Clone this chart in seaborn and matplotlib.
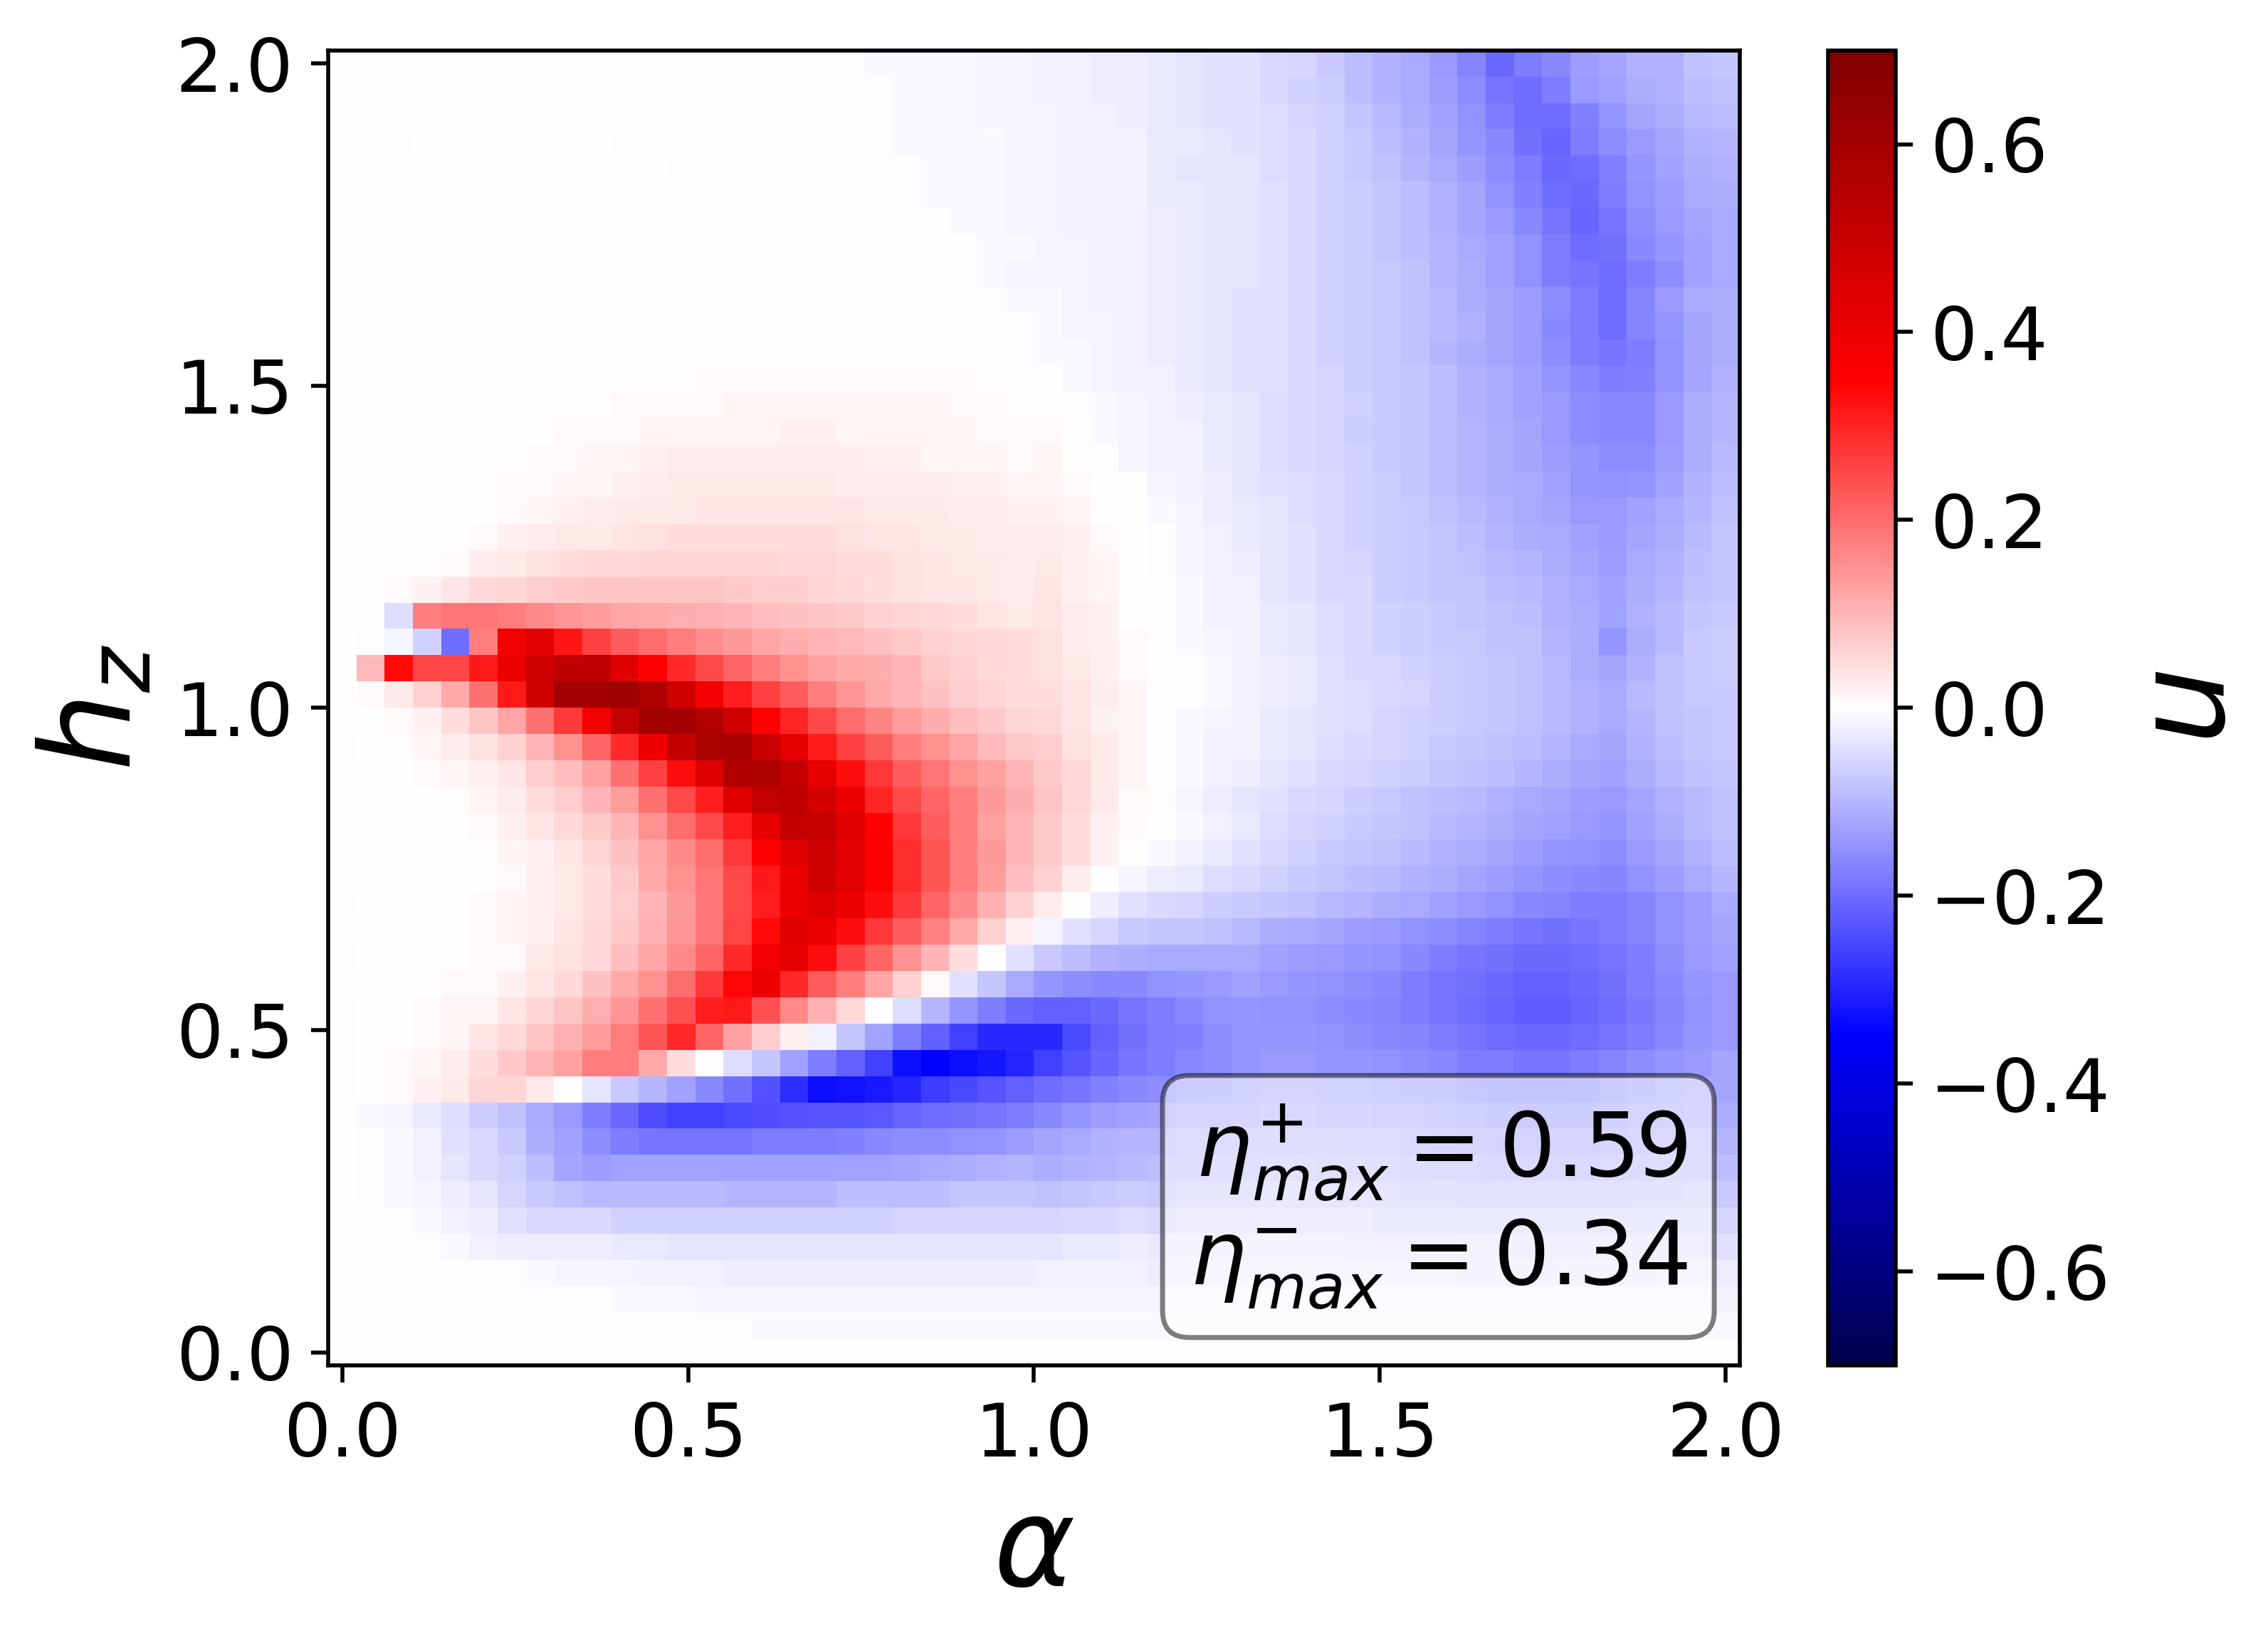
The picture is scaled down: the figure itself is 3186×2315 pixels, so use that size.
import numpy as np
import pandas as pd
import matplotlib
matplotlib.use('Agg')
import matplotlib.pyplot as plt
import seaborn as sns

# u(alpha, h_z): 50 rows (h_z from 2.0 down to 0.0) x 50 cols (alpha 0 -> 2)
# each row = cols 0-24 + cols 25-49
u_rows = [
    [-0.002]*19 + [-0.01]*4 + [-0.014]*2 + [-0.02, -0.02, -0.022, -0.022, -0.03, -0.035, -0.04, -0.04, -0.05, -0.055, -0.072, -0.092, -0.108, -0.12, -0.141, -0.168, -0.205, -0.18, -0.163, -0.135, -0.125, -0.108, -0.104, -0.086, -0.08],
    [-0.002]*20 + [-0.01]*3 + [-0.014]*2 + [-0.02, -0.02, -0.024, -0.024, -0.032, -0.038, -0.043, -0.043, -0.054, -0.065, -0.07, -0.09, -0.105, -0.12, -0.135, -0.155, -0.19, -0.198, -0.175, -0.138, -0.127, -0.113, -0.105, -0.09, -0.086],
    [-0.002]*20 + [-0.01]*3 + [-0.014]*2 + [-0.015, -0.02, -0.02, -0.022, -0.03, -0.035, -0.04, -0.04, -0.047, -0.056, -0.065, -0.08, -0.097, -0.113, -0.13, -0.152, -0.18, -0.2, -0.2, -0.17, -0.147, -0.125, -0.113, -0.097, -0.092],
    [-0.002]*3 + [0.0]*7 + [-0.002]*10 + [-0.01]*4 + [-0.014] + [-0.015, -0.017, -0.017, -0.019, -0.028, -0.032, -0.037, -0.04, -0.047, -0.052, -0.062, -0.075, -0.088, -0.108, -0.124, -0.145, -0.163, -0.192, -0.21, -0.18, -0.158, -0.138, -0.124, -0.108, -0.1],
    [0.0]*12 + [-0.002]*9 + [-0.01]*3 + [-0.014] + [-0.015, -0.017, -0.017, -0.019, -0.028, -0.033, -0.036, -0.037, -0.046, -0.054, -0.062, -0.075, -0.086, -0.103, -0.12, -0.135, -0.158, -0.18, -0.205, -0.198, -0.17, -0.147, -0.13, -0.113, -0.108],
    [0.0]*21 + [-0.01]*3 + [-0.014] + [-0.015, -0.017, -0.017, -0.019, -0.028, -0.03, -0.035, -0.037, -0.04, -0.05, -0.062, -0.066, -0.078, -0.09, -0.108, -0.125, -0.15, -0.172, -0.2, -0.205, -0.175, -0.152, -0.135, -0.12, -0.113],
    [0.0]*22 + [-0.01]*2 + [-0.014] + [-0.015, -0.017, -0.017, -0.02, -0.026, -0.032, -0.035, -0.035, -0.04, -0.05, -0.062, -0.066, -0.08, -0.09, -0.108, -0.125, -0.138, -0.163, -0.19, -0.213, -0.186, -0.158, -0.141, -0.125, -0.119],
    [0.0]*23 + [-0.01]*2 + [-0.014, -0.014, -0.017, -0.02, -0.025, -0.032, -0.035, -0.035, -0.04, -0.05, -0.062, -0.066, -0.08, -0.09, -0.1, -0.12, -0.13, -0.152, -0.178, -0.2, -0.195, -0.163, -0.147, -0.13, -0.119],
    [0.0]*23 + [-0.008, -0.012] + [-0.014, -0.014, -0.017, -0.02, -0.025, -0.03, -0.035, -0.035, -0.04, -0.05, -0.062, -0.066, -0.076, -0.086, -0.1, -0.113, -0.13, -0.152, -0.175, -0.19, -0.2, -0.175, -0.158, -0.13, -0.119],
    [0.0]*21 + [-0.003]*3 + [-0.01] + [-0.01, -0.014, -0.017, -0.02, -0.025, -0.03, -0.035, -0.04, -0.04, -0.05, -0.062, -0.066, -0.076, -0.086, -0.098, -0.113, -0.124, -0.135, -0.158, -0.18, -0.198, -0.165, -0.141, -0.119, -0.113],
    [0.0]*12 + [0.004]*7 + [0.001]*4 + [-0.002, -0.004] + [-0.01, -0.014, -0.014, -0.02, -0.025, -0.03, -0.035, -0.04, -0.04, -0.05, -0.062, -0.066, -0.075, -0.086, -0.097, -0.108, -0.124, -0.135, -0.163, -0.175, -0.198, -0.168, -0.147, -0.124, -0.113],
    [0.0]*10 + [0.005]*11 + [0.002]*2 + [0.0, -0.003] + [-0.007, -0.01, -0.014, -0.02, -0.025, -0.03, -0.035, -0.04, -0.04, -0.05, -0.062, -0.066, -0.075, -0.083, -0.1, -0.113, -0.124, -0.135, -0.158, -0.175, -0.19, -0.175, -0.152, -0.124, -0.113],
    [0.0]*9 + [0.005]*4 + [0.01]*7 + [0.006]*3 + [0.002, -0.001] + [0.0, -0.01, -0.014, -0.017, -0.02, -0.03, -0.035, -0.04, -0.04, -0.05, -0.057, -0.066, -0.075, -0.08, -0.092, -0.108, -0.119, -0.13, -0.147, -0.163, -0.18, -0.17, -0.152, -0.124, -0.108],
    [0.0]*8 + [0.004, 0.005, 0.006, 0.008, 0.01, 0.01] + [0.014]*5 + [0.012]*3 + [0.008, 0.006, 0.002] + [0.003, -0.004, -0.01, -0.014, -0.017, -0.023, -0.03, -0.035, -0.048, -0.054, -0.057, -0.065, -0.075, -0.08, -0.092, -0.105, -0.119, -0.13, -0.141, -0.158, -0.163, -0.163, -0.141, -0.113, -0.103],
    [0.0]*7 + [0.004, 0.007, 0.008, 0.01, 0.012] + [0.015]*4 + [0.018]*2 + [0.016]*4 + [0.012, 0.008, 0.006] + [0.008, 0.002, -0.01, -0.014, -0.017, -0.02, -0.03, -0.035, -0.045, -0.052, -0.057, -0.066, -0.075, -0.08, -0.09, -0.1, -0.113, -0.124, -0.138, -0.158, -0.163, -0.16, -0.138, -0.113, -0.103],
    [0.0]*6 + [0.004, 0.007, 0.01, 0.012, 0.016, 0.018] + [0.022]*7 + [0.02, 0.02, 0.016, 0.014, 0.012, 0.008] + [0.013, 0.002, -0.004, -0.014, -0.017, -0.02, -0.028, -0.035, -0.045, -0.052, -0.057, -0.065, -0.075, -0.08, -0.092, -0.1, -0.113, -0.124, -0.135, -0.147, -0.155, -0.155, -0.135, -0.113, -0.097],
    [0.0]*5 + [0.005, 0.008, 0.01, 0.013, 0.016, 0.02, 0.022] + [0.028]*6 + [0.027, 0.025, 0.024, 0.022, 0.02, 0.018, 0.015] + [0.016, 0.008, 0.001, -0.004, -0.014, -0.018, -0.026, -0.033, -0.043, -0.048, -0.054, -0.065, -0.07, -0.08, -0.09, -0.1, -0.113, -0.119, -0.13, -0.147, -0.15, -0.147, -0.13, -0.108, -0.092],
    [0.0]*5 + [0.005, 0.01, 0.015, 0.018, 0.025, 0.028, 0.03, 0.032, 0.035] + [0.037]*4 + [0.035, 0.032, 0.03, 0.028, 0.025, 0.022, 0.018] + [0.02, 0.012, 0.001, 0.0, -0.01, -0.016, -0.023, -0.03, -0.037, -0.045, -0.052, -0.065, -0.07, -0.075, -0.086, -0.097, -0.108, -0.119, -0.125, -0.138, -0.141, -0.13, -0.119, -0.103, -0.086],
    [0.0]*4 + [0.005, 0.01, 0.018, 0.023, 0.028, 0.032, 0.037, 0.04] + [0.045]*6 + [0.043, 0.038, 0.037, 0.032, 0.03, 0.025, 0.022] + [0.025, 0.018, 0.008, 0.0, -0.004, -0.014, -0.021, -0.028, -0.037, -0.043, -0.054, -0.063, -0.07, -0.075, -0.08, -0.092, -0.103, -0.113, -0.119, -0.13, -0.141, -0.125, -0.113, -0.097, -0.08],
    [0.0]*3 + [0.005, 0.01, 0.025, 0.03, 0.042, 0.047, 0.05, 0.053] + [0.055]*5 + [0.052, 0.05, 0.048, 0.045, 0.042, 0.035, 0.032, 0.03, 0.025] + [0.03, 0.02, 0.012, 0.002, -0.004, -0.014, -0.018, -0.023, -0.034, -0.04, -0.052, -0.057, -0.07, -0.075, -0.08, -0.086, -0.097, -0.103, -0.113, -0.124, -0.135, -0.119, -0.108, -0.092, -0.08],
    [0.0, 0.0, 0.006, 0.02, 0.037, 0.05, 0.057, 0.07, 0.075, 0.077, 0.078, 0.08, 0.08, 0.08, 0.075, 0.07, 0.068, 0.057, 0.053, 0.047, 0.042, 0.037, 0.035, 0.03, 0.025] + [0.035, 0.02, 0.015, 0.002, 0.0, -0.01, -0.018, -0.021, -0.034, -0.04, -0.052, -0.054, -0.066, -0.072, -0.077, -0.08, -0.092, -0.097, -0.108, -0.119, -0.13, -0.113, -0.103, -0.086, -0.077],
    [-0.002, -0.002, -0.047, 0.175, 0.19, 0.186, 0.175, 0.163, 0.147, 0.135, 0.125, 0.117, 0.113, 0.105, 0.1, 0.09, 0.084, 0.078, 0.072, 0.063, 0.057, 0.05, 0.045, 0.035, 0.03] + [0.035, 0.025, 0.018, 0.002, 0.0, -0.008, -0.018, -0.021, -0.03, -0.037, -0.047, -0.054, -0.065, -0.068, -0.072, -0.077, -0.086, -0.089, -0.108, -0.113, -0.13, -0.108, -0.097, -0.08, -0.072],
    [0.0, -0.002, -0.012, -0.062, -0.2, 0.175, 0.39, 0.43, 0.32, 0.26, 0.22, 0.2, 0.175, 0.155, 0.14, 0.125, 0.113, 0.1, 0.095, 0.085, 0.075, 0.065, 0.06, 0.05, 0.045] + [0.04, 0.025, 0.018, 0.008, 0.0, -0.007, -0.015, -0.018, -0.028, -0.037, -0.045, -0.05, -0.065, -0.068, -0.072, -0.075, -0.084, -0.086, -0.1, -0.113, -0.147, -0.113, -0.097, -0.075, -0.07],
    [0.0, 0.097, 0.335, 0.255, 0.255, 0.315, 0.4, 0.49, 0.52, 0.52, 0.436, 0.35, 0.29, 0.25, 0.21, 0.175, 0.153, 0.13, 0.12, 0.11, 0.1, 0.075, 0.065, 0.054, 0.048] + [0.042, 0.03, 0.02, 0.01, 0.0, 0.0, -0.01, -0.021, -0.023, -0.032, -0.043, -0.05, -0.054, -0.065, -0.07, -0.075, -0.08, -0.086, -0.097, -0.113, -0.124, -0.108, -0.086, -0.075, -0.07],
    [-0.002, 0.007, 0.03, 0.062, 0.117, 0.196, 0.315, 0.48, 0.6, 0.6, 0.61, 0.57, 0.48, 0.38, 0.31, 0.26, 0.22, 0.175, 0.147, 0.12, 0.1, 0.085, 0.07, 0.06, 0.045] + [0.045, 0.035, 0.022, 0.012, 0.0, -0.004, -0.01, -0.021, -0.023, -0.03, -0.043, -0.045, -0.054, -0.06, -0.068, -0.075, -0.08, -0.086, -0.097, -0.108, -0.119, -0.097, -0.086, -0.075, -0.072],
    [0.0, 0.0, 0.006, 0.02, 0.044, 0.08, 0.125, 0.196, 0.27, 0.38, 0.51, 0.6, 0.6, 0.56, 0.48, 0.35, 0.3, 0.25, 0.2, 0.165, 0.135, 0.113, 0.09, 0.075, 0.057] + [0.05, 0.037, 0.02, 0.016, 0.0, -0.007, -0.014, -0.021, -0.03, -0.035, -0.043, -0.048, -0.056, -0.062, -0.07, -0.075, -0.08, -0.086, -0.097, -0.108, -0.119, -0.103, -0.086, -0.08, -0.075],
    [-0.002, 0.0, 0.0, 0.012, 0.023, 0.042, 0.065, 0.1, 0.15, 0.21, 0.29, 0.39, 0.51, 0.58, 0.59, 0.5, 0.42, 0.315, 0.26, 0.22, 0.18, 0.15, 0.125, 0.097, 0.075] + [0.066, 0.042, 0.03, 0.012, 0.002, -0.01, -0.018, -0.021, -0.03, -0.035, -0.045, -0.05, -0.06, -0.065, -0.072, -0.077, -0.086, -0.092, -0.103, -0.119, -0.124, -0.108, -0.092, -0.08, -0.075],
    [0.0, 0.0, 0.0, 0.008, 0.012, 0.02, 0.035, 0.07, 0.09, 0.13, 0.196, 0.26, 0.33, 0.44, 0.56, 0.57, 0.51, 0.42, 0.33, 0.27, 0.22, 0.186, 0.15, 0.13, 0.1] + [0.075, 0.05, 0.03, 0.016, 0.0, -0.01, -0.021, -0.025, -0.034, -0.043, -0.05, -0.056, -0.065, -0.07, -0.077, -0.086, -0.092, -0.103, -0.113, -0.124, -0.13, -0.113, -0.097, -0.086, -0.08],
    [0.0, 0.0, 0.0, 0.0, 0.004, 0.012, 0.026, 0.044, 0.07, 0.1, 0.135, 0.196, 0.25, 0.31, 0.436, 0.51, 0.53, 0.47, 0.4, 0.3, 0.25, 0.21, 0.175, 0.14, 0.113] + [0.08, 0.053, 0.032, 0.008, -0.004, -0.014, -0.025, -0.034, -0.041, -0.05, -0.057, -0.066, -0.075, -0.086, -0.092, -0.097, -0.108, -0.119, -0.124, -0.135, -0.141, -0.124, -0.108, -0.097, -0.086],
    [0.0, 0.0, 0.0, 0.0, 0.0, 0.008, 0.02, 0.035, 0.05, 0.075, 0.1, 0.15, 0.2, 0.25, 0.31, 0.42, 0.51, 0.5, 0.436, 0.35, 0.27, 0.22, 0.175, 0.13, 0.1] + [0.075, 0.047, 0.02, 0.007, 0.0, -0.01, -0.021, -0.03, -0.048, -0.056, -0.064, -0.072, -0.08, -0.086, -0.093, -0.103, -0.113, -0.125, -0.13, -0.141, -0.147, -0.13, -0.113, -0.097, -0.086],
    [0.0, 0.0, 0.0, 0.0, 0.0, 0.005, 0.012, 0.02, 0.037, 0.057, 0.087, 0.125, 0.163, 0.2, 0.27, 0.35, 0.436, 0.49, 0.43, 0.35, 0.285, 0.23, 0.18, 0.14, 0.1] + [0.075, 0.047, 0.018, 0.0, -0.01, -0.02, -0.03, -0.043, -0.054, -0.064, -0.072, -0.08, -0.086, -0.097, -0.105, -0.113, -0.125, -0.135, -0.147, -0.152, -0.158, -0.141, -0.125, -0.108, -0.092],
    [0.0, 0.0, 0.0, 0.0, 0.0, 0.004, 0.01, 0.018, 0.03, 0.047, 0.075, 0.117, 0.15, 0.19, 0.25, 0.315, 0.4, 0.48, 0.43, 0.35, 0.285, 0.23, 0.175, 0.135, 0.09] + [0.065, 0.023, 0.0, -0.014, -0.023, -0.032, -0.047, -0.054, -0.064, -0.075, -0.08, -0.088, -0.097, -0.105, -0.113, -0.125, -0.135, -0.147, -0.154, -0.163, -0.168, -0.152, -0.135, -0.119, -0.103],
    [-0.002, 0.0, 0.0, 0.0, 0.0, 0.008, 0.012, 0.02, 0.03, 0.045, 0.07, 0.1, 0.14, 0.186, 0.25, 0.31, 0.4, 0.44, 0.4, 0.33, 0.27, 0.21, 0.163, 0.108, 0.065] + [0.023, 0.0, -0.023, -0.043, -0.054, -0.057, -0.07, -0.075, -0.08, -0.086, -0.093, -0.103, -0.113, -0.119, -0.13, -0.141, -0.152, -0.163, -0.168, -0.176, -0.178, -0.168, -0.152, -0.135, -0.119],
    [0.0, 0.0, 0.0, 0.0, 0.0, 0.008, 0.012, 0.02, 0.037, 0.05, 0.075, 0.108, 0.145, 0.19, 0.255, 0.335, 0.436, 0.4, 0.33, 0.27, 0.22, 0.17, 0.12, 0.065, 0.018] + [-0.013, -0.043, -0.057, -0.075, -0.08, -0.08, -0.086, -0.097, -0.113, -0.119, -0.125, -0.135, -0.141, -0.152, -0.158, -0.168, -0.178, -0.19, -0.196, -0.19, -0.178, -0.168, -0.152, -0.135, -0.125],
    [-0.002, 0.0, 0.0, 0.0, 0.0, 0.008, 0.01, 0.03, 0.04, 0.053, 0.09, 0.125, 0.163, 0.21, 0.29, 0.38, 0.42, 0.33, 0.26, 0.21, 0.15, 0.1, 0.047, 0.0, -0.043] + [-0.075, -0.09, -0.108, -0.113, -0.119, -0.119, -0.119, -0.119, -0.13, -0.135, -0.141, -0.147, -0.152, -0.163, -0.175, -0.186, -0.196, -0.204, -0.204, -0.199, -0.19, -0.175, -0.158, -0.141, -0.13],
    [0.0, 0.0, 0.0, 0.0, 0.006, 0.01, 0.02, 0.035, 0.05, 0.085, 0.115, 0.15, 0.2, 0.27, 0.34, 0.39, 0.29, 0.22, 0.175, 0.125, 0.065, 0.006, -0.043, -0.08, -0.12] + [-0.147, -0.158, -0.163, -0.16, -0.152, -0.147, -0.141, -0.13, -0.141, -0.147, -0.152, -0.158, -0.163, -0.175, -0.186, -0.196, -0.207, -0.218, -0.218, -0.207, -0.196, -0.18, -0.163, -0.147, -0.138],
    [-0.002, 0.0, 0.0, 0.006, 0.012, 0.016, 0.035, 0.057, 0.078, 0.113, 0.147, 0.196, 0.24, 0.31, 0.315, 0.24, 0.16, 0.108, 0.053, 0.003, -0.047, -0.1, -0.147, -0.18, -0.207] + [-0.218, -0.218, -0.207, -0.19, -0.175, -0.163, -0.152, -0.147, -0.152, -0.152, -0.158, -0.163, -0.168, -0.178, -0.19, -0.2, -0.21, -0.222, -0.222, -0.21, -0.199, -0.182, -0.168, -0.152, -0.141],
    [-0.002, 0.0, 0.0, 0.01, 0.016, 0.035, 0.053, 0.08, 0.105, 0.135, 0.18, 0.23, 0.29, 0.21, 0.13, 0.07, 0.018, -0.02, -0.08, -0.13, -0.175, -0.218, -0.26, -0.29, -0.295] + [-0.29, -0.25, -0.218, -0.196, -0.18, -0.17, -0.158, -0.147, -0.147, -0.147, -0.152, -0.158, -0.163, -0.168, -0.178, -0.19, -0.2, -0.207, -0.207, -0.2, -0.19, -0.175, -0.163, -0.147, -0.138],
    [-0.002, 0.0, 0.006, 0.015, 0.022, 0.045, 0.075, 0.1, 0.13, 0.175, 0.175, 0.117, 0.047, 0.0, -0.047, -0.08, -0.13, -0.175, -0.218, -0.26, -0.33, -0.35, -0.33, -0.32, -0.3] + [-0.26, -0.235, -0.21, -0.19, -0.175, -0.163, -0.158, -0.147, -0.141, -0.141, -0.147, -0.147, -0.152, -0.158, -0.163, -0.175, -0.178, -0.186, -0.186, -0.178, -0.168, -0.158, -0.147, -0.138, -0.125],
    [-0.002, 0.0, 0.01, 0.02, 0.028, 0.057, 0.057, 0.03, -0.004, -0.037, -0.075, -0.1, -0.13, -0.163, -0.196, -0.24, -0.285, -0.33, -0.325, -0.317, -0.3, -0.265, -0.25, -0.235, -0.218] + [-0.2, -0.186, -0.17, -0.163, -0.158, -0.14, -0.135, -0.125, -0.12, -0.12, -0.125, -0.125, -0.13, -0.135, -0.14, -0.15, -0.155, -0.16, -0.16, -0.155, -0.145, -0.135, -0.125, -0.12, -0.125],
    [0.002, -0.006, -0.012, -0.03, -0.045, -0.07, -0.085, -0.117, -0.14, -0.175, -0.205, -0.245, -0.26, -0.26, -0.25, -0.245, -0.24, -0.235, -0.23, -0.225, -0.21, -0.2, -0.196, -0.186, -0.175] + [-0.163, -0.147, -0.135, -0.13, -0.125, -0.12, -0.115, -0.11, -0.105, -0.105, -0.11, -0.11, -0.115, -0.12, -0.125, -0.13, -0.135, -0.14, -0.14, -0.135, -0.13, -0.12, -0.115, -0.11, -0.113],
    [0.0, -0.004, -0.01, -0.021, -0.043, -0.054, -0.075, -0.113, -0.13, -0.158, -0.175, -0.186, -0.186, -0.186, -0.186, -0.18, -0.175, -0.175, -0.17, -0.163, -0.158, -0.155, -0.152, -0.147, -0.135] + [-0.125, -0.12, -0.108, -0.103, -0.1, -0.098, -0.095, -0.092, -0.09, -0.09, -0.092, -0.095, -0.098, -0.1, -0.105, -0.11, -0.115, -0.118, -0.118, -0.115, -0.11, -0.105, -0.1, -0.097, -0.103],
    [0.0, -0.004, -0.01, -0.02, -0.037, -0.05, -0.065, -0.09, -0.125, -0.135] + [-0.13]*9 + [-0.127, -0.124, -0.12, -0.113, -0.108, -0.103] + [-0.113, -0.108, -0.103, -0.097, -0.09, -0.088, -0.085, -0.083, -0.082, -0.082, -0.083, -0.085, -0.087, -0.09, -0.093, -0.097, -0.1, -0.103, -0.103, -0.1, -0.097, -0.093, -0.09, -0.088, -0.092],
    [0.0, -0.003, -0.01, -0.016, -0.023, -0.037, -0.056, -0.075, -0.086, -0.095] + [-0.097]*4 + [-0.099]*4 + [-0.092]*4 + [-0.08]*3 + [-0.086, -0.08, -0.075, -0.07, -0.072, -0.07, -0.068, -0.066, -0.065, -0.065, -0.066, -0.068, -0.07, -0.072, -0.075, -0.078, -0.08, -0.082, -0.082, -0.08, -0.078, -0.075, -0.072, -0.07, -0.075],
    [0.0, 0.0, 0.0, -0.007, -0.018, -0.023, -0.043, -0.054, -0.054, -0.054] + [-0.064]*4 + [-0.062]*6 + [-0.056]*5 + [-0.057, -0.054, -0.05, -0.048, -0.05, -0.049, -0.048, -0.047, -0.046, -0.046, -0.047, -0.048, -0.05, -0.052, -0.054, -0.056, -0.058, -0.06, -0.06, -0.058, -0.056, -0.054, -0.052, -0.05, -0.057],
    [-0.002]*4 + [-0.01, -0.018] + [-0.023]*4 + [-0.03]*2 + [-0.037]*13 + [-0.035, -0.032, -0.03, -0.027, -0.03, -0.03, -0.03, -0.03, -0.031, -0.031, -0.032, -0.033, -0.034, -0.035, -0.036, -0.037, -0.038, -0.039, -0.039, -0.039, -0.039, -0.039, -0.04, -0.041, -0.043],
    [-0.002]*7 + [-0.007] + [-0.012]*3 + [-0.02]*3 + [-0.022]*11 + [-0.021]*4 + [-0.022, -0.022, -0.022, -0.022, -0.022, -0.022, -0.023, -0.024, -0.025, -0.026, -0.027, -0.028, -0.029, -0.03, -0.03, -0.03, -0.029, -0.028, -0.027, -0.026] + [-0.023],
    [-0.002]*10 + [-0.007]*3 + [-0.012]*12 + [-0.014]*24 + [-0.018],
    [-0.002]*15 + [-0.006]*10 + [-0.008]*24 + [-0.01],
    [-0.001]*4 + [-0.003]*21 + [-0.004]*25,
]

alpha_ticks = [0.0, 0.5, 1.0, 1.5, 2.0]
hz_ticks = [0.0, 0.5, 1.0, 1.5, 2.0]
cbar_ticks = [-0.6, -0.4, -0.2, 0.0, 0.2, 0.4, 0.6]
eta_plus = 0.59
eta_minus = 0.34

bad = [i for i, r in enumerate(u_rows) if len(r) != 50]
assert len(u_rows) == 50 and not bad, (len(u_rows), bad)

df = pd.DataFrame(u_rows)
n = df.shape[1]
step = 2.0 / (n - 1)

fig = plt.figure(figsize=(3186 / 500, 2315 / 500), dpi=500)
ax = fig.add_axes([0.1447, 0.1715, 0.6224, 0.798])
cax = fig.add_axes([0.806, 0.1715, 0.0298, 0.798])

sns.heatmap(df, cmap='seismic', vmin=-0.7, vmax=0.7, ax=ax, cbar_ax=cax,
            xticklabels=False, yticklabels=False)

# ticks at data values (cell centres sit on the grid points)
ax.set_xticks([t / step + 0.5 for t in alpha_ticks])
ax.set_xticklabels([f'{t:.1f}' for t in alpha_ticks], rotation=0)
ax.set_yticks([(2.0 - t) / step + 0.5 for t in hz_ticks])
ax.set_yticklabels([f'{t:.1f}' for t in hz_ticks], rotation=0)
ax.tick_params(labelsize=15, length=3.5, width=0.8)
for s in ax.spines.values():
    s.set_visible(True)
    s.set_linewidth(0.8)
    s.set_color('black')

ax.set_xlabel(r'$\alpha$', fontsize=25)
ax.set_ylabel(r'$h_z$', fontsize=25)

cb = ax.collections[0].colorbar
cb.outline.set_visible(True)
cb.outline.set_linewidth(0.8)
cb.outline.set_edgecolor('black')
cb.set_ticks(cbar_ticks)
cb.ax.tick_params(labelsize=15, length=3.5, width=0.8)
cb.set_label(r'$u$', fontsize=25)

txt = (r'$\eta_{max}^{+} = %.2f$' % eta_plus) + '\n' + (r'$\eta_{max}^{-} = %.2f$' % eta_minus)
ax.text(0.963, 0.0415, txt, transform=ax.transAxes, ha='right', va='bottom', fontsize=18,
        bbox=dict(boxstyle='round', facecolor='white', alpha=0.5))

fig.savefig('out.png', dpi=500)
